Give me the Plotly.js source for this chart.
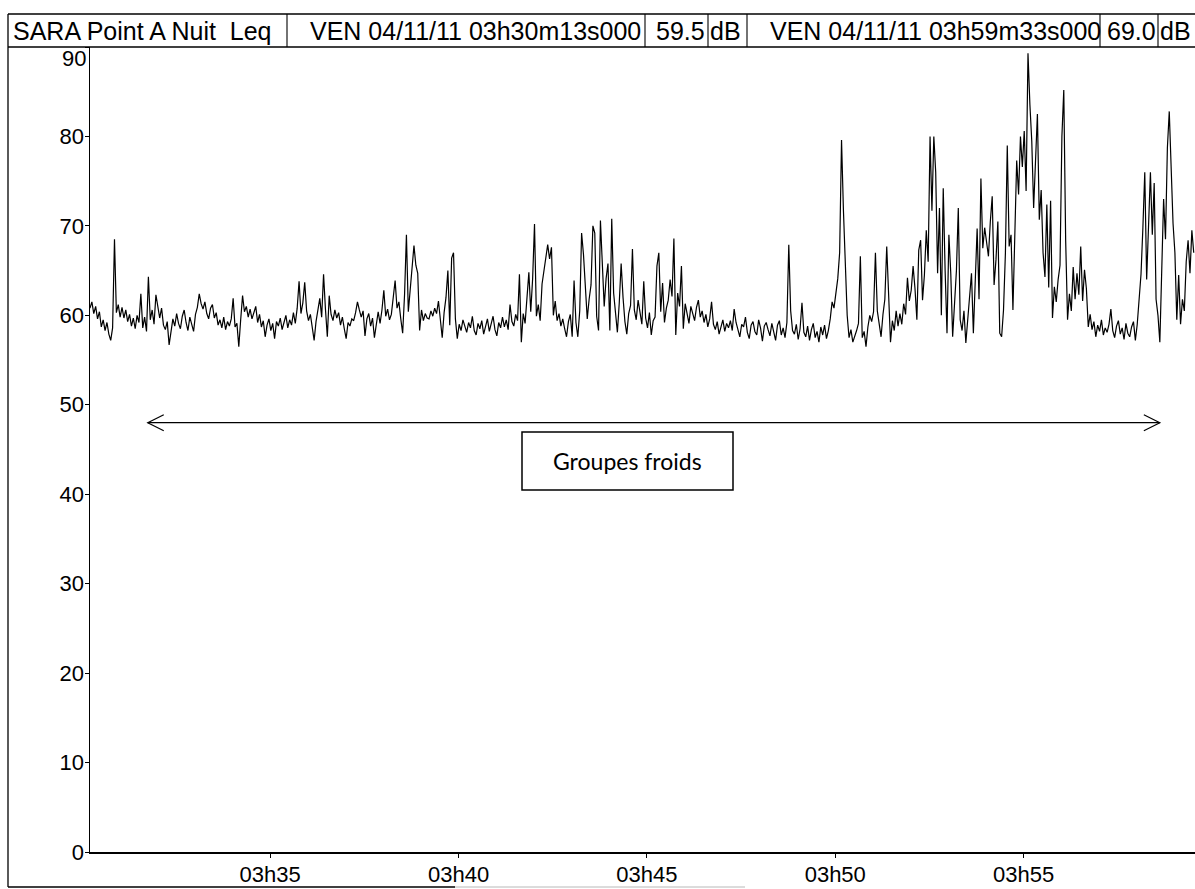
<!DOCTYPE html>
<html>
<head>
<meta charset="utf-8">
<script src="https://cdn.plot.ly/plotly-3.0.1.min.js"></script>
<style>
  html, body { margin: 0; padding: 0; background: #ffffff; }
  #chart { width: 1195px; height: 889px; }
</style>
</head>
<body>
<div id="chart"></div>
<script>
// ---------- DATA ----------
const startTime = '2011-11-04T03:30:13Z';
const stepSeconds = 3;

// Leq values (dB), one every 3 s (20 values = 1 minute)
const leq0330 = [
  60.8, 61.5, 60.2, 61.0, 59.6, 60.4, 58.7, 59.5, 58.3, 59.2, 57.9, 57.2, 58.6, 68.5, 60.3, 61.2, 59.8, 60.9, 59.7, 60.6,
  59.3, 60.1, 58.8, 59.7, 58.5, 60.0, 59.2, 62.4, 58.6, 59.8, 58.2, 64.3, 59.5, 60.6, 59.0, 62.3, 61.0, 59.7, 60.8, 58.9,
  58.4, 59.3, 56.7, 58.1, 59.6, 58.8, 60.2, 59.1, 58.5, 59.9, 60.6, 59.2, 58.3, 59.8, 59.0, 58.2, 60.1, 60.9, 62.4, 61.3,
  60.7, 61.5, 60.2, 59.6, 60.8, 61.2, 59.7, 60.3, 58.9, 59.5, 58.6, 59.8, 58.4, 59.3, 58.8, 59.6, 61.9, 58.7, 59.1, 56.5,
  59.5, 62.2, 60.4, 61.0, 59.8, 60.7, 59.6, 60.3, 61.0, 59.2, 60.1, 58.7, 59.4, 57.6, 58.9, 59.6, 58.3, 59.1, 57.4, 59.3
];
const leq0335 = [
  58.8, 59.7, 58.4, 59.2, 60.0, 58.6, 59.5, 58.9, 60.3, 59.1, 60.8, 63.8, 60.2, 61.4, 63.7, 60.5, 59.4, 60.1, 58.8, 57.2,
  59.3, 60.4, 61.9, 59.8, 64.6, 60.7, 57.6, 62.2, 60.1, 59.4, 60.6, 59.7, 60.3, 58.9, 59.8, 58.5, 57.4, 59.2, 58.8, 59.6,
  59.4, 60.3, 61.5, 60.6, 59.8, 60.5, 57.7, 59.6, 60.2, 58.8, 59.7, 57.5, 59.3, 60.4, 59.1, 60.6, 62.8, 59.9, 60.7, 59.5,
  60.1, 61.7, 63.9, 60.8, 61.5, 59.6, 58.0, 62.3, 69.0, 60.4, 63.1, 65.2, 67.8, 65.6, 64.7, 58.3, 60.6, 59.4, 60.2, 59.7,
  59.6, 60.5, 59.9, 60.8, 60.2, 61.6, 59.1, 57.5, 60.3, 62.0, 65.0, 58.9, 66.4, 67.0, 59.6, 57.4, 59.0, 58.3, 59.5, 58.7
];
const leq0340 = [
  58.1, 59.2, 58.6, 59.9, 58.3, 57.8, 59.1, 58.5, 59.4, 57.9, 58.8, 59.6, 58.2, 59.0, 59.9, 58.4, 57.7, 59.2, 58.6, 59.8,
  58.7, 59.5, 58.4, 61.2, 59.3, 58.8, 60.1, 59.4, 64.6, 57.0, 60.2, 59.1, 61.5, 64.8, 60.4, 64.1, 70.2, 59.9, 61.2, 59.4,
  63.5, 65.1, 66.8, 67.9, 66.3, 67.6, 60.0, 61.6, 59.4, 60.2, 58.8, 59.6, 58.5, 57.6, 59.3, 60.1, 57.6, 63.9, 59.2, 57.6,
  60.5, 69.2, 66.8, 62.5, 59.6, 61.8, 63.4, 70.0, 69.2, 59.9, 58.3, 70.6, 65.2, 61.0, 64.1, 65.8, 58.3, 70.8, 62.5, 60.3,
  58.1, 61.4, 65.8, 62.0, 59.3, 57.9, 60.2, 61.1, 67.4, 60.6, 59.5, 61.7, 60.4, 59.0, 63.8, 59.7, 58.6, 60.3, 57.8, 59.4
];
const leq0345 = [
  59.8, 65.5, 67.0, 60.4, 63.6, 59.2, 60.8, 61.7, 64.0, 62.1, 68.6, 57.8, 62.5, 61.0, 65.5, 58.5, 61.3, 60.2, 59.1, 61.0,
  60.3, 59.4, 60.9, 61.7, 59.8, 60.5, 59.2, 60.1, 58.7, 59.6, 61.5, 59.0, 58.4, 59.3, 57.9, 58.8, 59.5, 58.2, 59.1, 58.6,
  59.4, 58.3, 60.7, 59.2, 58.5, 57.6, 59.0, 58.7, 59.8, 58.1, 57.4, 58.9, 59.3, 58.2, 57.8, 59.5, 58.6, 57.1, 58.8, 59.2,
  58.4, 57.7, 59.1, 58.3, 57.2, 58.9, 59.4, 57.8, 58.6, 57.5, 59.2, 67.9, 60.5, 58.3, 57.9, 59.0, 57.3, 58.5, 61.4, 58.1,
  57.6, 58.8, 57.2, 58.4, 59.1, 57.5, 58.2, 57.0, 58.7, 57.8, 58.9, 57.4, 58.3, 59.6, 61.5, 60.8, 62.6, 64.1, 67.0, 79.6
];
const leq0350 = [
  71.8, 66.6, 60.0, 57.5, 58.4, 57.0, 57.6, 58.3, 59.1, 66.6, 57.5, 58.2, 56.5, 58.7, 60.0, 59.3, 60.4, 67.0, 60.5, 59.2,
  57.6, 60.1, 61.8, 67.7, 62.6, 57.0, 59.4, 58.3, 60.5, 58.8, 60.2, 59.0, 61.3, 60.1, 64.2, 61.6, 62.8, 65.5, 63.0, 59.5,
  67.3, 68.4, 61.7, 64.5, 69.5, 66.0, 80.0, 71.7, 80.0, 76.0, 64.7, 72.0, 60.0, 74.2, 65.0, 58.0, 69.0, 64.7, 57.6, 62.0,
  65.0, 72.0, 59.5, 58.3, 60.5, 56.9, 59.5, 61.2, 64.7, 58.0, 63.5, 69.7, 61.8, 75.3, 67.5, 69.8, 68.2, 66.6, 70.5, 73.3,
  63.4, 66.2, 70.5, 58.0, 57.6, 60.6, 66.9, 79.0, 67.7, 69.0, 60.6, 70.4, 77.3, 73.5, 80.0, 76.6, 80.6, 73.9, 89.3, 83.6
];
const leq0355 = [
  79.5, 72.0, 76.6, 82.5, 70.7, 74.0, 67.0, 64.3, 72.4, 63.1, 72.8, 59.7, 63.2, 61.5, 64.0, 65.6, 80.0, 85.2, 68.4, 59.5,
  62.4, 60.5, 65.4, 61.8, 64.7, 62.3, 67.7, 61.6, 65.1, 63.0, 58.7, 60.1, 58.4, 59.3, 57.6, 58.9, 58.2, 59.5, 57.8, 58.6,
  58.1, 59.0, 60.7, 58.3, 57.5, 58.8, 59.4, 57.9, 58.6, 57.3, 59.1, 58.0, 57.6, 58.7, 59.3, 57.2, 59.0, 61.5, 64.6, 69.8,
  76.0, 64.0, 70.5, 76.0, 69.0, 74.8, 61.8, 60.0, 57.0, 64.7, 73.0, 68.5, 78.7, 82.8, 76.2, 70.3, 67.0, 59.5, 64.5, 59.0,
  61.8, 60.5, 66.0, 68.4, 64.7, 69.5, 67.0
];

const xRange = ['2011-11-04 03:30:13', '2011-11-04 03:59:33'];
const xTickVals = ['2011-11-04 03:35:00', '2011-11-04 03:40:00', '2011-11-04 03:45:00', '2011-11-04 03:50:00', '2011-11-04 03:55:00'];
const xTickText = ['03h35', '03h40', '03h45', '03h50', '03h55'];
const yTickVals = [0, 10, 20, 30, 40, 50, 60, 70, 80, 90];
const yTickText = ['0', '10', '20', '30', '40', '50', '60', '70', '80', ''];

const headerTitle = 'SARA Point A Nuit  Leq';
const headerStart = 'VEN 04/11/11 03h30m13s000';
const headerStartValue = '59.5';
const headerEnd = 'VEN 04/11/11 03h59m33s000';
const headerEndValue = '69.0';
const headerUnit = 'dB';
const arrowLabel = 'Groupes froids';
const arrowStart = '2011-11-04 03:31:45';
const arrowEnd = '2011-11-04 03:58:37';
const arrowLevel = 48;

// ---------- BUILD ----------
const leqDb = [].concat(leq0330, leq0335, leq0340, leq0345, leq0350, leq0355);
const t0 = Date.parse(startTime);
function fmt(ms) {
  return new Date(ms).toISOString().replace('T', ' ').replace('Z', '').slice(0, 19);
}
const times = leqDb.map((_, i) => fmt(t0 + i * stepSeconds * 1000));

const W = 1195, H = 889, L = 90, R = 0, T = 47, B = 37;
const pw = W - L - R, ph = H - T - B;
const px = x => (x - L) / pw;
const py = y => (H - B - y) / ph;

const FONT = 'Liberation Sans, Arial, Helvetica, sans-serif';
const black = '#000000';

const shapes = [];
function seg(x0, y0, x1, y1, w, c) {
  shapes.push({type: 'line', xref: 'paper', yref: 'paper', x0: px(x0), y0: py(y0), x1: px(x1), y1: py(y1),
               line: {color: c || black, width: w || 1.3}});
}
// header box
seg(8, 14, 1195, 14, 1.3);
seg(8, 47, 1195, 47, 1.6);
seg(8, 14, 8, 47, 1.3);
[287, 645, 708, 747, 1100, 1158].forEach(x => seg(x, 14, x, 47, 1.1));
// outer frame (left and bottom)
seg(8, 47, 8, 887, 1.3);
seg(8, 887, 455, 887, 1.3);
seg(455, 887, 745, 887, 1, '#b8b8b8');

// double arrow
shapes.push({type: 'line', xref: 'x', yref: 'y', x0: arrowStart, x1: arrowEnd, y0: arrowLevel, y1: arrowLevel,
             line: {color: black, width: 1.2}});
shapes.push({type: 'path', xref: 'x', yref: 'y', xsizemode: 'pixel', ysizemode: 'pixel',
             xanchor: arrowStart, yanchor: arrowLevel, path: 'M 16,8 L 0,0 L 16,-8',
             line: {color: black, width: 1.2}});
shapes.push({type: 'path', xref: 'x', yref: 'y', xsizemode: 'pixel', ysizemode: 'pixel',
             xanchor: arrowEnd, yanchor: arrowLevel, path: 'M -16,8 L 0,0 L -16,-8',
             line: {color: black, width: 1.2}});
// label box
shapes.push({type: 'rect', xref: 'paper', yref: 'paper', x0: px(522), x1: px(733), y0: py(490), y1: py(432),
             line: {color: black, width: 1.5}, fillcolor: 'rgba(0,0,0,0)'});

const hf = {family: FONT, size: 25, color: black};
function txt(text, x, y, xanchor, font, yanchor) {
  return {text: text, xref: 'paper', yref: 'paper', x: px(x), y: py(y), xanchor: xanchor, yanchor: yanchor || 'middle',
          showarrow: false, font: font || hf};
}
const annotations = [
  txt(headerTitle, 11, 31, 'left'),
  txt(headerStart, 308, 31, 'left'),
  txt(headerStartValue, 707, 31, 'right'),
  txt(headerUnit, 708, 31, 'left'),
  txt(headerEnd, 768, 31, 'left'),
  txt(headerEndValue, 1158, 31, 'right'),
  txt(headerUnit, 1158, 31, 'left'),
  txt('90', 88, 44, 'right', {family: FONT, size: 22, color: black}, 'top'),
  txt(arrowLabel, 627.5, 461, 'center', {family: 'Lato, Carlito, Calibri, sans-serif', size: 23, color: black})
];

const trace = {
  type: 'scatter', mode: 'lines', x: times, y: leqDb,
  line: {color: '#000000', width: 1.2}, hoverinfo: 'skip', showlegend: false
};

const layout = {
  width: W, height: H,
  margin: {l: L, r: R, t: T, b: B, pad: 0},
  paper_bgcolor: '#ffffff', plot_bgcolor: '#ffffff',
  showlegend: false,
  xaxis: {
    type: 'date', range: xRange, tickvals: xTickVals, ticktext: xTickText,
    showgrid: false, zeroline: false, showline: true, linecolor: black, linewidth: 1.5,
    ticks: 'outside', ticklen: 4, tickcolor: black, tickwidth: 1, ticklabelstandoff: -2,
    tickfont: {family: FONT, size: 22, color: black}, fixedrange: true
  },
  yaxis: {
    range: [0, 90], tickvals: yTickVals, ticktext: yTickText,
    showgrid: false, zeroline: false, showline: true, linecolor: black, linewidth: 1.5,
    ticks: 'outside', ticklen: 4, tickcolor: black, tickwidth: 1, ticklabelstandoff: -4,
    tickfont: {family: FONT, size: 22, color: black}, fixedrange: true
  },
  shapes: shapes,
  annotations: annotations
};

Plotly.newPlot('chart', [trace], layout, {staticPlot: true, displayModeBar: false});
</script>
</body>
</html>
